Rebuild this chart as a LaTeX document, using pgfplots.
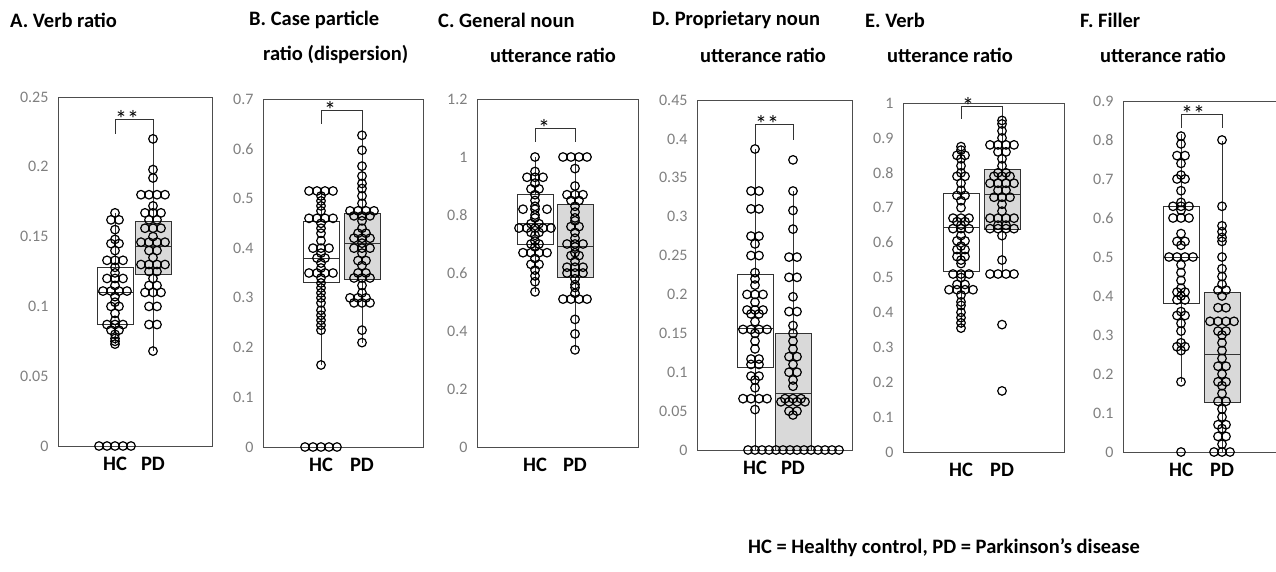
\documentclass[border=0pt]{standalone}
\usepackage{fontspec}
\setmainfont{Carlito}
\usepackage{pgfplots}
\pgfplotsset{compat=1.18}

\definecolor{frame}{HTML}{4D4D4D}
\definecolor{ticktext}{HTML}{7F7F7F}
\definecolor{pdfill}{HTML}{D9D9D9}

\pgfplotsset{
  panel/.style={
    scale only axis, anchor=south west, xmin=0, ymin=0, clip=false,
    axis line style={draw=frame, line width=0.9pt},
    major tick length=0pt,
    /pgf/number format/assume math mode=true,
    xticklabel style={font=\fontsize{20.5}{24}\selectfont\bfseries, text=black, yshift=-8pt},
    yticklabel style={font=\fontsize{16}{19}\selectfont, text=ticktext, xshift=-6pt,
      /pgf/number format/fixed, /pgf/number format/precision=2},
  },
  boxline/.style={draw=black!80, line width=0.9pt, forget plot},
  hcbox/.style={boxline, fill=white},
  pdbox/.style={boxline, fill=pdfill},
  pts/.style={only marks, mark=o, black, mark size=4.3pt, mark options={line width=1.2pt}},
}
\tikzset{
  bracket/.style={draw=black!80, line width=0.9pt},
  stars/.style={anchor=south west, inner sep=0pt, font=\fontsize{24}{26}\selectfont, yshift=-8pt},
}

% box: style, left, centre, right, lower whisker, lower quartile, median, upper quartile, upper whisker
\newcommand{\bx}[9]{%
  \addplot[boxline] coordinates {(#3,#5)(#3,#9)};
  \addplot[#1] coordinates {(#2,#6)(#4,#6)(#4,#8)(#2,#8)(#2,#6)};
  \addplot[boxline] coordinates {(#2,#7)(#4,#7)};
}

\begin{document}
\begin{tikzpicture}
\useasboundingbox (0pt,0pt) rectangle (1276pt,571pt);

% A. Verb ratio
\begin{axis}[panel, at={(58pt,125pt)}, width=154pt, height=349pt, xmax=154, ymax=0.25,
  xtick={57,95}, xticklabels={HC,PD}, ytick={0,0.05,0.1,0.15,0.2,0.25}]
\bx{hcbox}{39}{57}{75}{0.073}{0.087}{0.11}{0.128}{0.167}
\bx{pdbox}{77}{95}{113}{0.068}{0.123}{0.143}{0.161}{0.22}
\addplot[pts] coordinates {
(41,0)(49,0)(57,0)(65,0)(73,0)
(57,0.167)(53,0.162)(61,0.162)(57,0.155)(57,0.148)(53,0.145)(61,0.145)(57,0.14)
(49,0.133)(57,0.133)(65,0.133)(57,0.128)(57,0.124)(49,0.12)(57,0.12)(65,0.12)
(57,0.115)(45,0.111)(53,0.111)(61,0.111)(69,0.111)(57,0.107)(57,0.103)(53,0.1)(61,0.1)
(57,0.095)(57,0.09)(49,0.087)(57,0.087)(65,0.087)(53,0.083)(61,0.083)(57,0.08)(57,0.077)(57,0.075)(57,0.073)
};
\addplot[pts] coordinates {
(95,0.22)(95,0.198)(95,0.192)(83,0.18)(91,0.18)(99,0.18)(107,0.18)(95,0.172)
(87,0.167)(95,0.167)(103,0.167)(91,0.162)(99,0.162)(87,0.156)(95,0.156)(103,0.156)(95,0.15)
(83,0.146)(91,0.146)(99,0.146)(107,0.146)(91,0.14)(99,0.14)(95,0.135)
(83,0.13)(91,0.13)(99,0.13)(107,0.13)(91,0.125)(99,0.125)(95,0.12)(91,0.115)(99,0.115)
(87,0.11)(95,0.11)(103,0.11)(91,0.1)(99,0.1)(91,0.087)(99,0.087)(95,0.068)
};
\draw[bracket] (axis cs:57,0.2236) |- (axis cs:95,0.234) -- (axis cs:95,0.22);
\node[stars] at (axis cs:57,0.234) {**};
\end{axis}

% B. Case particle ratio
\begin{axis}[panel, at={(263pt,124pt)}, width=160pt, height=348pt, xmax=160, ymax=0.7,
  xtick={58,99}, xticklabels={HC,PD}, ytick={0,0.1,0.2,0.3,0.4,0.5,0.6,0.7}]
\bx{hcbox}{40}{58}{76}{0.165}{0.33}{0.38}{0.453}{0.515}
\bx{pdbox}{81}{99}{117}{0.21}{0.337}{0.41}{0.47}{0.627}
\addplot[pts] coordinates {
(46,0.515)(54,0.515)(62,0.515)(70,0.515)(58,0.505)(58,0.495)(58,0.485)(58,0.475)
(46,0.46)(54,0.46)(62,0.46)(70,0.46)(58,0.45)(58,0.44)(58,0.43)(58,0.415)
(50,0.4)(58,0.4)(66,0.4)(58,0.39)(54,0.38)(62,0.38)(58,0.37)(58,0.36)
(46,0.35)(54,0.35)(62,0.35)(70,0.35)(58,0.34)(58,0.33)(58,0.32)(58,0.31)(58,0.3)(58,0.29)
(58,0.275)(58,0.265)(58,0.255)(58,0.245)(58,0.235)(58,0.165)
(42,0)(50,0)(58,0)(66,0)(74,0)
};
\addplot[pts] coordinates {
(99,0.627)(99,0.597)(99,0.565)(99,0.545)(99,0.53)(99,0.52)(99,0.505)(99,0.49)
(87,0.475)(95,0.475)(103,0.475)(111,0.475)(91,0.465)(99,0.465)(107,0.465)(99,0.455)(99,0.44)
(95,0.43)(103,0.43)(91,0.42)(99,0.42)(107,0.42)(99,0.41)(91,0.4)(99,0.4)(107,0.4)(99,0.39)
(95,0.375)(103,0.375)(99,0.365)(95,0.35)(103,0.35)(91,0.34)(99,0.34)(107,0.34)(99,0.325)(99,0.31)
(87,0.3)(95,0.3)(103,0.3)(91,0.29)(99,0.29)(107,0.29)(99,0.235)(99,0.21)
};
\draw[bracket] (axis cs:58,0.65) |- (axis cs:99,0.677) -- (axis cs:99,0.627);
\node[stars] at (axis cs:61,0.677) {*};
\end{axis}

% C. General noun utterance ratio
\begin{axis}[panel, at={(477pt,124pt)}, width=161pt, height=348pt, xmax=161, ymax=1.2,
  xtick={58,98}, xticklabels={HC,PD}, ytick={0,0.2,0.4,0.6,0.8,1,1.2}]
\bx{hcbox}{40}{58}{76}{0.535}{0.70}{0.77}{0.87}{1.0}
\bx{pdbox}{80}{98}{116}{0.335}{0.585}{0.69}{0.835}{1.0}
\addplot[pts] coordinates {
(58,1)(58,0.95)(50,0.93)(58,0.93)(66,0.93)(58,0.91)(54,0.89)(62,0.89)(58,0.87)(58,0.85)(58,0.83)
(46,0.82)(58,0.82)(70,0.82)(58,0.8)(58,0.79)(54,0.77)(62,0.77)
(42,0.755)(50,0.755)(58,0.755)(66,0.755)(74,0.755)(54,0.74)(62,0.74)(58,0.73)(58,0.71)
(54,0.7)(62,0.7)(58,0.69)(46,0.67)(54,0.67)(62,0.67)(70,0.67)(58,0.65)(54,0.63)(62,0.63)
(58,0.61)(58,0.59)(58,0.57)(58,0.535)
};
\addplot[pts] coordinates {
(86,1)(94,1)(102,1)(110,1)(98,0.96)(98,0.9)(90,0.87)(98,0.87)(106,0.87)(94,0.85)(102,0.85)
(98,0.83)(98,0.81)(98,0.79)(98,0.78)(94,0.76)(102,0.76)(98,0.74)(98,0.72)
(90,0.7)(98,0.7)(106,0.7)(98,0.69)(98,0.67)(94,0.66)(102,0.66)(98,0.64)
(90,0.62)(98,0.62)(106,0.62)(90,0.6)(98,0.6)(106,0.6)(98,0.58)(98,0.56)(98,0.55)(98,0.53)
(86,0.51)(94,0.51)(102,0.51)(110,0.51)(98,0.44)(98,0.39)(98,0.335)
};
\draw[bracket] (axis cs:58,1.052) |- (axis cs:98,1.098) -- (axis cs:98,1.052);
\node[stars] at (axis cs:61,1.098) {*};
\end{axis}

% D. Proprietary noun utterance ratio
\begin{axis}[panel, at={(697pt,121pt)}, width=155pt, height=350pt, xmax=155, ymax=0.45,
  xtick={58,96}, xticklabels={HC,PD}, ytick={0,0.05,0.1,0.15,0.2,0.25,0.3,0.35,0.4,0.45}]
\bx{hcbox}{40}{58}{76}{0}{0.106}{0.156}{0.226}{0.387}
\bx{pdbox}{78}{96}{114}{0}{0}{0.073}{0.15}{0.333}
\addplot[pts] coordinates {
(58,0.387)(54,0.333)(62,0.333)(54,0.31)(62,0.31)(54,0.275)(62,0.275)(58,0.265)(54,0.25)(62,0.25)
(58,0.228)(58,0.22)(58,0.212)(50,0.2)(58,0.2)(66,0.2)(58,0.19)(50,0.18)(58,0.18)(66,0.18)
(54,0.175)(62,0.175)(58,0.165)(46,0.155)(54,0.155)(62,0.155)(70,0.155)(58,0.15)(58,0.14)(58,0.13)
(54,0.117)(62,0.117)(54,0.11)(62,0.11)(54,0.095)(62,0.095)(58,0.09)(58,0.08)
(46,0.066)(54,0.066)(62,0.066)(70,0.066)(58,0.052)(51,0)(58,0)
};
\addplot[pts] coordinates {
(96,0.373)(96,0.333)(96,0.308)(96,0.284)(92,0.248)(100,0.248)(92,0.222)(100,0.222)(96,0.197)
(92,0.178)(100,0.178)(96,0.16)(96,0.15)(96,0.14)(96,0.13)(92,0.12)(100,0.12)(96,0.11)
(92,0.1)(100,0.1)(96,0.09)(96,0.082)(88,0.066)(96,0.066)(104,0.066)
(84,0.062)(92,0.062)(100,0.062)(108,0.062)(92,0.05)(100,0.05)(96,0.045)
(65,0)(72,0)(79,0)(86,0)(93,0)(100,0)(107,0)(114,0)(121,0)(128,0)(135,0)(142,0)
};
\draw[bracket] (axis cs:58,0.392) |- (axis cs:96,0.418) -- (axis cs:96,0.398);
\node[stars] at (axis cs:58,0.418) {**};
\end{axis}

% E. Verb utterance ratio
\begin{axis}[panel, at={(903pt,119pt)}, width=161pt, height=349pt, xmax=161, ymax=1,
  xtick={58,99}, xticklabels={HC,PD}, ytick={0,0.1,0.2,0.3,0.4,0.5,0.6,0.7,0.8,0.9,1}]
\bx{hcbox}{40}{58}{76}{0.355}{0.518}{0.642}{0.742}{0.876}
\bx{pdbox}{81}{99}{117}{0.51}{0.637}{0.738}{0.809}{0.95}
\addplot[pts] coordinates {
(58,0.875)(58,0.865)(54,0.85)(62,0.85)(58,0.84)(58,0.82)(58,0.8)(54,0.79)(62,0.79)(58,0.77)(58,0.75)
(54,0.735)(62,0.735)(58,0.72)(58,0.7)(50,0.67)(58,0.67)(66,0.67)(54,0.66)(62,0.66)(58,0.65)
(50,0.64)(58,0.64)(66,0.64)(58,0.62)(54,0.605)(62,0.605)(58,0.59)(54,0.58)(62,0.58)(54,0.56)(62,0.56)
(58,0.55)(58,0.54)(50,0.51)(58,0.51)(66,0.51)(58,0.5)(54,0.48)(62,0.48)
(46,0.465)(54,0.465)(62,0.465)(70,0.465)(58,0.45)(58,0.43)(58,0.42)(58,0.4)(58,0.385)(58,0.37)(58,0.355)
};
\addplot[pts] coordinates {
(99,0.95)(99,0.94)(99,0.92)(99,0.9)(87,0.88)(95,0.88)(103,0.88)(111,0.88)(95,0.86)(103,0.86)
(99,0.84)(99,0.82)(95,0.8)(103,0.8)(91,0.79)(99,0.79)(107,0.79)(87,0.77)(95,0.77)(103,0.77)(111,0.77)
(95,0.75)(103,0.75)(91,0.73)(99,0.73)(107,0.73)(99,0.71)(99,0.69)
(87,0.67)(95,0.67)(103,0.67)(111,0.67)(95,0.65)(103,0.65)(87,0.64)(95,0.64)(103,0.64)(111,0.64)
(99,0.62)(99,0.55)(87,0.51)(95,0.51)(103,0.51)(111,0.51)(99,0.365)(99,0.175)
};
\draw[bracket] (axis cs:58,0.955) |- (axis cs:99,0.99) -- (axis cs:99,0.95);
\node[stars] at (axis cs:59,0.99) {*};
\end{axis}

% F. Filler utterance ratio
\begin{axis}[panel, at={(1123pt,119pt)}, width=158pt, height=351pt, xmax=158, ymax=0.9,
  xtick={58,99}, xticklabels={HC,PD}, ytick={0,0.1,0.2,0.3,0.4,0.5,0.6,0.7,0.8,0.9}]
\bx{hcbox}{40}{58}{76}{0.18}{0.381}{0.5}{0.63}{0.815}
\bx{pdbox}{81}{99}{117}{0}{0.126}{0.251}{0.409}{0.798}
\addplot[pts] coordinates {
(58,0.81)(58,0.79)(54,0.76)(62,0.76)(58,0.74)(58,0.71)(54,0.7)(62,0.7)(58,0.67)(58,0.64)
(50,0.63)(58,0.63)(66,0.63)(58,0.62)(50,0.6)(58,0.6)(66,0.6)(58,0.56)(54,0.54)(62,0.54)(58,0.53)
(46,0.5)(54,0.5)(62,0.5)(70,0.5)(58,0.48)(58,0.46)(58,0.44)(58,0.42)(54,0.41)(62,0.41)(58,0.4)
(54,0.39)(62,0.39)(58,0.36)(54,0.35)(62,0.35)(58,0.33)(58,0.31)(58,0.28)(54,0.27)(62,0.27)(58,0.26)
(58,0.18)(58,0)
};
\addplot[pts] coordinates {
(99,0.8)(99,0.63)(99,0.58)(99,0.565)(99,0.55)(99,0.54)(99,0.5)(99,0.47)(99,0.45)(99,0.43)
(95,0.415)(103,0.415)(99,0.4)(95,0.37)(103,0.37)(87,0.335)(95,0.335)(103,0.335)(111,0.335)
(95,0.31)(103,0.31)(99,0.3)(99,0.28)(99,0.26)(99,0.24)(95,0.22)(103,0.22)(99,0.2)(95,0.18)(103,0.18)
(99,0.17)(99,0.15)(95,0.13)(103,0.13)(99,0.11)(99,0.09)(95,0.07)(103,0.07)(99,0.06)(95,0.04)(103,0.04)(99,0.02)
(91,0)(99,0)(107,0)
};
\draw[bracket] (axis cs:58,0.832) |- (axis cs:99,0.866) -- (axis cs:99,0.832);
\node[stars] at (axis cs:58,0.866) {**};
\end{axis}

% panel titles and note
\begin{scope}[every node/.style={anchor=west, inner sep=0pt, font=\fontsize{20.5}{24}\selectfont\bfseries}]
\node at (10pt,551pt) {A. Verb ratio};
\node at (249pt,551pt) {B. Case particle};
\node at (263pt,516pt) {ratio (dispersion)};
\node at (438pt,551pt) {C. General noun};
\node at (490pt,516pt) {utterance ratio};
\node at (652pt,551pt) {D. Proprietary noun};
\node at (700pt,516pt) {utterance ratio};
\node at (865pt,551pt) {E. Verb};
\node at (887pt,516pt) {utterance ratio};
\node at (1080pt,551pt) {F. Filler};
\node at (1100pt,516pt) {utterance ratio};
\node at (748pt,23pt) {HC = Healthy control, PD = Parkinson’s disease};
\end{scope}
\end{tikzpicture}
\end{document}
